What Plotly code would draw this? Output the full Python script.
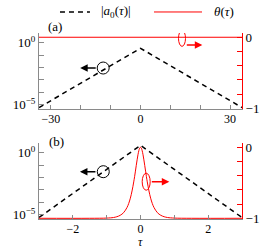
import plotly.graph_objects as go

# ---------------- data ----------------
tau_a = [-34, -20, -10, 0, 10, 20, 34]
a0_a = [5.8e-6, 5.4e-4, 0.0138, 0.355, 0.0138, 5.4e-4, 5.8e-6]
theta_a = [0, 0, 0, 0, 0, 0, 0]

tau_b = [-3, -2, -1, 0, 1, 2, 3]
a0_b = [5.9e-6, 5.1e-4, 0.0447, 3.89, 0.0447, 5.1e-4, 5.9e-6]

tau_b_th = [-3.0, -1.5, -1.0, -0.8, -0.7, -0.6, -0.5, -0.4, -0.35, -0.3, -0.25, -0.2,
            -0.175, -0.15, -0.125, -0.1, -0.075, -0.05, -0.025, 0.0,
            0.025, 0.05, 0.075, 0.1, 0.125, 0.15, 0.175, 0.2, 0.25, 0.3,
            0.35, 0.4, 0.5, 0.6, 0.7, 0.8, 1.0, 1.5, 3.0]
theta_b = [-1.0, -1.0, -0.997, -0.989, -0.978, -0.958, -0.921, -0.849, -0.793, -0.717, -0.615, -0.488,
           -0.415, -0.336, -0.255, -0.177, -0.106, -0.050, -0.013, 0.0,
           -0.013, -0.050, -0.106, -0.177, -0.255, -0.336, -0.415, -0.488, -0.615, -0.717,
           -0.793, -0.849, -0.921, -0.958, -0.978, -0.989, -0.997, -1.0, -1.0]

xa_ticks = [-30, -20, -10, 0, 10, 20, 30]
xa_text = ["−30", "", "", "0", "", "", "30"]
xb_ticks = [-2, -1, 0, 1, 2]
xb_text = ["−2", "", "0", "", "2"]
yl_ticks = [1, 0.1, 0.01, 1e-3, 1e-4, 1e-5]
yl_text = ["10<sup>0</sup>", "", "", "", "", "10<sup>−5</sup>"]
yr_ticks = [0, -0.2, -0.4, -0.6, -0.8, -1]
yr_text = ["0", "", "", "", "", "−1"]

FONT = "Liberation Serif"
GRAY = "#8a8a8a"
RED = "#ff0000"

fig = go.Figure()
dash = "5px,4px"
fig.add_trace(go.Scatter(x=tau_a, y=a0_a, xaxis="x", yaxis="y", mode="lines",
                         line=dict(color="black", width=1.5, dash=dash), showlegend=False))
fig.add_trace(go.Scatter(x=tau_a, y=theta_a, xaxis="x", yaxis="y2", mode="lines",
                         line=dict(color=RED, width=1), showlegend=False))
fig.add_trace(go.Scatter(x=tau_b, y=a0_b, xaxis="x2", yaxis="y3", mode="lines",
                         line=dict(color="black", width=1.5, dash=dash), showlegend=False))
fig.add_trace(go.Scatter(x=tau_b_th, y=theta_b, xaxis="x2", yaxis="y4", mode="lines",
                         line=dict(color=RED, width=1, shape="spline"), showlegend=False))

common_x = dict(showgrid=False, zeroline=False, showline=True, linecolor=GRAY, linewidth=1,
                ticks="inside", ticklen=4, tickcolor=GRAY, ticklabelstandoff=-1,
                tickfont=dict(family=FONT, size=12, color="black"))
common_yl = dict(type="log", range=[-5.35, 0.78], showgrid=False, zeroline=False, showline=True,
                 linecolor=GRAY, linewidth=1, ticks="inside", ticklen=5, tickcolor=GRAY,
                 tickvals=yl_ticks, ticktext=yl_text, tickfont=dict(family=FONT, size=13, color="black"))
common_yr = dict(range=[-1.01, 0.06], showgrid=False, zeroline=False, showline=True, side="right",
                 linecolor=RED, linewidth=1, ticks="inside", ticklen=5, tickcolor=RED,
                 tickvals=yr_ticks, ticktext=yr_text, tickfont=dict(family=FONT, size=13, color="black"))

dom_a = [0.5914, 1.0]
dom_b = [0.0, 0.4086]

fig.update_layout(
    width=279, height=248,
    margin=dict(l=39, r=37, t=33, b=29),
    paper_bgcolor="white", plot_bgcolor="white",
    font=dict(family=FONT, size=13, color="black"),
    xaxis=dict(common_x, domain=[0, 1], anchor="y", range=[-34, 34], tickvals=xa_ticks, ticktext=xa_text),
    yaxis=dict(common_yl, domain=dom_a, anchor="x"),
    yaxis2=dict(common_yr, overlaying="y", anchor="x"),
    xaxis2=dict(common_x, domain=[0, 1], anchor="y3", range=[-3, 3], tickvals=xb_ticks, ticktext=xb_text),
    yaxis3=dict(common_yl, domain=dom_b, anchor="x2"),
    yaxis4=dict(common_yr, overlaying="y3", anchor="x2"),
    showlegend=False,
)

shapes = []
annotations = []

def circle(xref, yref, x, y, w, h, color):
    shapes.append(dict(type="circle", xref=xref, yref=yref, xsizemode="pixel", ysizemode="pixel",
                       xanchor=x, yanchor=y, x0=-w / 2, x1=w / 2, y0=-h / 2, y1=h / 2,
                       line=dict(color=color, width=1)))

def arrow(xref, yref, x, y, ax, color):
    annotations.append(dict(xref=xref, yref=yref, x=x, y=y, ax=ax, ay=0, text="", showarrow=True,
                            arrowhead=2, arrowsize=1, arrowwidth=1.5, arrowcolor=color))

# panel (a)
circle("x", "y2", -12.5, -0.433, 12, 12, "black")
arrow("x", "y2", -20.2, -0.433, 17, "black")
circle("x", "y2", 13.9, -0.015, 7, 16, RED)
arrow("x", "y2", 20.7, -0.109, -17, RED)
# panel (b)
circle("x2", "y4", -1.10, -0.344, 12, 12, "black")
arrow("x2", "y4", -1.79, -0.344, 17, "black")
circle("x2", "y4", 0.168, -0.485, 8, 17, RED)
arrow("x2", "y4", 0.851, -0.485, -19, RED)

# legend (manual)
shapes.append(dict(type="line", xref="paper", yref="paper", x0=0.1034, x1=0.251, y0=1.113, y1=1.113,
                   line=dict(color="black", width=1.5, dash=dash)))
shapes.append(dict(type="line", xref="paper", yref="paper", x0=0.5665, x1=0.803, y0=1.113, y1=1.113,
                   line=dict(color=RED, width=1)))

def label(x, y, text, size=13):
    annotations.append(dict(xref="paper", yref="paper", x=x, y=y, text=text, showarrow=False,
                            xanchor="center", yanchor="middle", font=dict(family=FONT, size=size, color="black")))

label(0.377, 1.113, "|<i>a</i><sub>0</sub>(<i>τ</i>)|")
label(0.911, 1.113, "<i>θ</i>(<i>τ</i>)")
label(0.081, 1.034, "(a)")
label(0.086, 0.4156, "(b)")
annotations.append(dict(xref="paper", yref="paper", x=0.5, y=-0.1237, text="<i>τ</i>", showarrow=False,
                        xanchor="center", yanchor="middle", borderpad=0,
                        font=dict(family=FONT, size=12, color="black")))

fig.update_layout(shapes=shapes, annotations=annotations)
fig.write_html("out.html", config={"displayModeBar": False},
               post_script="document.body.style.margin='0px';")
